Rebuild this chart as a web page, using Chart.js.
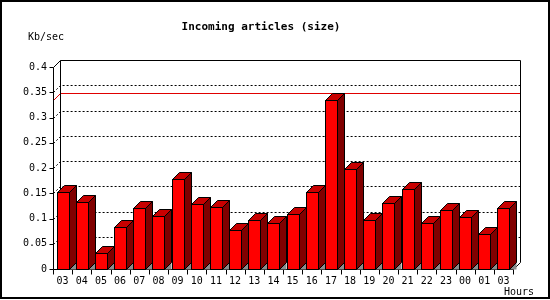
<!DOCTYPE html>
<html>
<head>
<meta charset="utf-8">
<script src="https://cdn.jsdelivr.net/npm/chart.js@4.4.1/dist/chart.umd.min.js"></script>
<style>
  html, body { margin: 0; padding: 0; background: #fff; }
  canvas { display: block; }
</style>
</head>
<body>
<canvas id="chartIncoming" width="550" height="300"></canvas>
<script>
// datos
const hours = ['03', '04', '05', '06', '07', '08', '09', '10', '11', '12', '13', '14',
               '15', '16', '17', '18', '19', '20', '21', '22', '23', '00', '01', '03'];
const kbPerSec = [0.152, 0.132, 0.031, 0.083, 0.120, 0.104, 0.178, 0.128, 0.122, 0.077, 0.098, 0.092,
                  0.109, 0.152, 0.335, 0.199, 0.098, 0.130, 0.158, 0.092, 0.116, 0.102, 0.069, 0.120];
const yTickValues = [0, 0.05, 0.1, 0.15, 0.2, 0.25, 0.3, 0.35, 0.4];
const chartTitle = 'Incoming articles (size)';
const yUnit = 'Kb/sec';
const xUnit = 'Hours';

const DEPTH = 7;

const fondo3d = {
    id: 'fondo3d',
    beforeDraw(chart) {
        const ctx = chart.ctx;
        ctx.save();
        ctx.fillStyle = '#ffffff';
        ctx.fillRect(0, 0, chart.width, chart.height);
        ctx.restore();
    },
    beforeDatasetsDraw(chart) {
        const ctx = chart.ctx;
        const a = chart.chartArea;
        const y = chart.scales.y;
        const x = chart.scales.x;
        const L = a.left + 0.5, R = a.right + 0.5, T = a.top + 0.5, B = a.bottom + 0.5;
        ctx.save();
        ctx.lineWidth = 1;

        // lineas punteadas de la pared del fondo
        ctx.strokeStyle = '#000';
        ctx.setLineDash([2, 2]);
        yTickValues.forEach(v => {
            if (v === 0 || v === yTickValues[yTickValues.length - 1]) return;
            const py = Math.round(y.getPixelForValue(v)) + 0.5;
            ctx.beginPath();
            ctx.moveTo(L, py);
            ctx.lineTo(L + DEPTH, py - DEPTH);
            ctx.lineTo(R + DEPTH, py - DEPTH);
            ctx.stroke();
        });
        ctx.setLineDash([]);

        // linea del maximo
        const maxY = Math.round(y.getPixelForValue(Math.max(...kbPerSec))) + 0.5;
        ctx.strokeStyle = '#e00000';
        ctx.beginPath();
        ctx.moveTo(L, maxY);
        ctx.lineTo(L + DEPTH, maxY - DEPTH);
        ctx.lineTo(R + DEPTH, maxY - DEPTH);
        ctx.stroke();

        // caja 3d
        ctx.strokeStyle = '#000';
        ctx.beginPath();
        ctx.moveTo(L, T);
        ctx.lineTo(L + DEPTH, T - DEPTH);
        ctx.lineTo(R + DEPTH, T - DEPTH);
        ctx.lineTo(R + DEPTH, B - DEPTH);
        ctx.lineTo(R, B);
        ctx.moveTo(L + DEPTH, T - DEPTH);
        ctx.lineTo(L + DEPTH, B - DEPTH);
        ctx.stroke();

        // ejes frontales
        ctx.beginPath();
        ctx.moveTo(L, T);
        ctx.lineTo(L, B);
        ctx.lineTo(R, B);
        yTickValues.forEach(v => {
            const py = Math.round(y.getPixelForValue(v)) + 0.5;
            ctx.moveTo(L - 4, py);
            ctx.lineTo(L, py);
        });
        for (let i = 0; i <= hours.length; i++) {
            let px;
            if (i === 0) px = a.left;
            else if (i === hours.length) px = a.right;
            else px = (x.getPixelForValue(i - 1) + x.getPixelForValue(i)) / 2;
            px = Math.round(px) + 0.5;
            ctx.moveTo(px, B);
            ctx.lineTo(px, B + 5);
        }
        ctx.stroke();
        ctx.restore();
    },
    afterDatasetsDraw(chart) {
        const ctx = chart.ctx;
        const meta = chart.getDatasetMeta(0);
        ctx.save();
        ctx.lineWidth = 1;
        ctx.strokeStyle = '#000';
        meta.data.forEach(bar => {
            const p = bar.getProps(['x', 'y', 'base', 'width'], true);
            const l = Math.round(p.x - p.width / 2) + 0.5;
            const r = Math.round(p.x + p.width / 2) + 0.5;
            const t = Math.round(p.y) + 0.5;
            const b = Math.round(p.base) + 0.5;
            const d = DEPTH;

            // sombra en el piso
            ctx.fillStyle = '#8c8c8c';
            ctx.beginPath();
            ctx.moveTo(r, b);
            ctx.lineTo(r + d, b - d);
            ctx.lineTo(r + d, b);
            ctx.closePath();
            ctx.fill();

            // lado
            ctx.fillStyle = '#800000';
            ctx.beginPath();
            ctx.moveTo(r, t);
            ctx.lineTo(r + d, t - d);
            ctx.lineTo(r + d, b - d);
            ctx.lineTo(r, b);
            ctx.closePath();
            ctx.fill();
            ctx.stroke();

            // tapa
            ctx.fillStyle = '#c80000';
            ctx.beginPath();
            ctx.moveTo(l, t);
            ctx.lineTo(l + d, t - d);
            ctx.lineTo(r + d, t - d);
            ctx.lineTo(r, t);
            ctx.closePath();
            ctx.fill();
            ctx.stroke();

            // frente
            ctx.fillStyle = '#ff0000';
            ctx.fillRect(l, t, r - l, b - t);
            ctx.strokeRect(l, t, r - l, b - t);
        });
        ctx.restore();
    },
    afterDraw(chart) {
        const ctx = chart.ctx;
        ctx.save();
        ctx.fillStyle = '#000';
        ctx.textBaseline = 'middle';
        ctx.font = 'bold 11px "DejaVu Sans Mono"';
        ctx.textAlign = 'center';
        ctx.fillText(chartTitle, 261, 27);
        ctx.font = '10px "DejaVu Sans Mono"';
        ctx.textAlign = 'left';
        ctx.fillText(yUnit, 28, 37);
        ctx.textAlign = 'right';
        ctx.fillText(xUnit, 534, 292);
        // marco
        ctx.strokeStyle = '#000';
        ctx.lineWidth = 2;
        ctx.strokeRect(1, 1, 548, 297);
        ctx.restore();
    }
};

document.addEventListener('DOMContentLoaded', () => {
    let ctxIncoming = document.getElementById('chartIncoming').getContext('2d');
    new Chart(ctxIncoming, {
        type: 'bar',
        data: {
            labels: hours,
            datasets: [{
                label: yUnit,
                data: kbPerSec,
                backgroundColor: 'rgba(0,0,0,0)',
                borderWidth: 0,
                categoryPercentage: 1,
                barPercentage: 0.63
            }]
        },
        options: {
            responsive: false,
            animation: false,
            devicePixelRatio: 1,
            layout: { padding: { left: 0, right: 37, top: 67, bottom: 0 } },
            plugins: {
                legend: { display: false },
                tooltip: { enabled: false },
                title: { display: false }
            },
            scales: {
                x: {
                    grid: { display: false, drawTicks: false },
                    border: { display: false },
                    ticks: {
                        color: '#000',
                        font: { family: 'DejaVu Sans Mono', size: 10 },
                        padding: 6,
                        maxRotation: 0,
                        autoSkip: false
                    },
                    afterFit: s => { s.height = 31; }
                },
                y: {
                    min: 0,
                    max: 0.4,
                    grid: { display: false, drawTicks: false },
                    border: { display: false },
                    afterBuildTicks: s => { s.ticks = yTickValues.map(v => ({ value: v })); },
                    ticks: {
                        color: '#000',
                        font: { family: 'DejaVu Sans Mono', size: 10 },
                        padding: 6,
                        callback: v => String(+Number(v).toFixed(2))
                    },
                    afterFit: s => { s.width = 53; }
                }
            }
        },
        plugins: [fondo3d]
    });
});
</script>
</body>
</html>
